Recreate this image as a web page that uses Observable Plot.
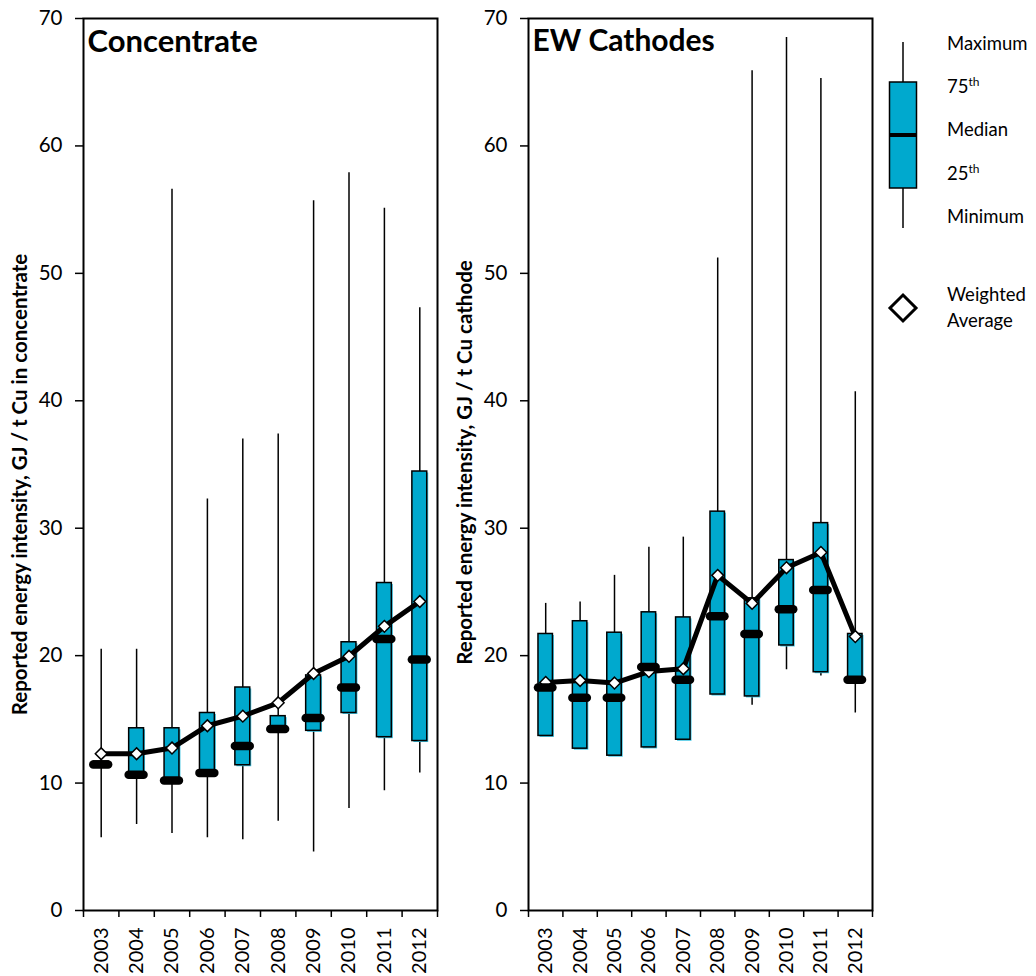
<!DOCTYPE html>
<html>
<head>
<meta charset="utf-8">
<script src="https://cdn.jsdelivr.net/npm/d3@7"></script>
<script src="https://cdn.jsdelivr.net/npm/@observablehq/plot@0.6"></script>
<style>
  html, body { margin: 0; padding: 0; background: #fff; }
  #wrap { position: relative; width: 1036px; height: 976px; overflow: hidden; font-family: Lato, "Open Sans", sans-serif; }
  #wrap > svg, #wrap > div { position: absolute; top: 0; }
</style>
</head>
<body>
<div id="wrap"></div>
<script>
// ---- data ----
const years = ["2003","2004","2005","2006","2007","2008","2009","2010","2011","2012"];

// Concentrate
const concMin    = [5.7, 6.75, 6.05, 5.7, 5.55, 7.0, 4.6, 8.0, 9.4, 10.8];
const concQ1     = [11.3, 10.8, 10.3, 10.9, 11.4, 14.4, 14.1, 15.5, 13.6, 13.3];
const concMedian = [11.45, 10.65, 10.2, 10.8, 12.9, 14.25, 15.1, 17.5, 21.3, 19.7];
const concQ3     = [11.7, 14.3, 14.3, 15.5, 17.5, 15.25, 18.45, 21.05, 25.7, 34.45];
const concMax    = [20.5, 20.5, 56.6, 32.3, 37.0, 37.4, 55.7, 57.9, 55.1, 47.3];
const concAvg    = [12.3, 12.3, 12.75, 14.5, 15.25, 16.3, 18.6, 19.95, 22.3, 24.25];

// EW Cathodes
const ewMin    = [13.7, 12.7, 12.15, 12.8, 13.4, 16.95, 16.1, 18.9, 18.4, 15.5];
const ewQ1     = [13.7, 12.7, 12.15, 12.8, 13.4, 16.95, 16.8, 20.8, 18.7, 18.1];
const ewMedian = [17.5, 16.7, 16.7, 19.1, 18.1, 23.1, 21.7, 23.65, 25.15, 18.1];
const ewQ3     = [21.7, 22.7, 21.8, 23.4, 23.0, 31.3, 24.5, 27.5, 30.4, 21.7];
const ewMax    = [24.1, 24.2, 26.3, 28.5, 29.3, 51.2, 65.9, 68.5, 65.3, 40.7];
const ewAvg    = [17.9, 18.05, 17.85, 18.75, 18.97, 26.3, 24.1, 26.9, 28.1, 21.5];

const yTicks = [0, 10, 20, 30, 40, 50, 60, 70];

// ---- build tables ----
function table(mn, q1, md, q3, mx, av) {
  return years.map((year, i) => ({i, year, min: mn[i], q1: q1[i], median: md[i], q3: q3[i], max: mx[i], avg: av[i]}));
}
const concData = table(concMin, concQ1, concMedian, concQ3, concMax, concAvg);
const ewData   = table(ewMin, ewQ1, ewMedian, ewQ3, ewMax, ewAvg);

const FILL = "#00A9CE";
const SHADOW = "#3cc3e2";
const FONT = "Lato, 'Open Sans', sans-serif";

function panel({data, title, titleSize, ylabel, width, marginLeft, marginRight, labelDy}) {
  const hw = 0.21;
  return Plot.plot({
    width, height: 976,
    marginLeft, marginRight, marginTop: 18, marginBottom: 66,
    x: {domain: [-0.5, 9.5], axis: null},
    y: {domain: [0, 70], axis: null},
    style: {fontFamily: FONT, color: "black", background: "transparent", overflow: "visible"},
    marks: [
      Plot.axisY({ticks: yTicks, tickSize: 8, tickPadding: 13, fontSize: 20.5, label: null, strokeWidth: 1.5}),
      Plot.axisX({ticks: d3.range(-0.5, 10, 1), tickSize: 7, tickFormat: () => "", label: null, strokeWidth: 1.5}),
      Plot.axisX({ticks: d3.range(0, 10), tickSize: 0, tickPadding: 17, tickRotate: -90, fontSize: 20,
                  tickFormat: i => years[i], label: null}),
      Plot.ruleX(data, {x: "i", y1: "min", y2: "max", stroke: "black", strokeWidth: 1.5}),
      Plot.rect(data, {x1: d => d.i - hw, x2: d => d.i + hw, y1: "q1", y2: "q3", fill: SHADOW, dx: 1.5, dy: 1.5}),
      Plot.rect(data, {x1: d => d.i - hw, x2: d => d.i + hw, y1: "q1", y2: "q3", fill: FILL, stroke: "black", strokeWidth: 1.5}),
      Plot.line(data, {x: "i", y: "avg", stroke: "black", strokeWidth: 5, strokeLinejoin: "round"}),
      Plot.dot(data, {x: "i", y: "avg", symbol: "diamond2", r: 5.3, fill: "white", stroke: "black", strokeWidth: 1.5}),
      Plot.ruleY(data, {y: "median", x1: d => d.i - hw, x2: d => d.i + hw, stroke: "black", strokeWidth: 8.5, strokeLinecap: "round"}),
      Plot.frame({stroke: "black", strokeWidth: 2}),
      Plot.text([title], {frameAnchor: "top-left", dx: 4, dy: 11, textAnchor: "start", lineAnchor: "top",
                          fontSize: titleSize, fontWeight: "bold", fill: "black"}),
      Plot.text([ylabel], {frameAnchor: "left", dx: -63, dy: labelDy, rotate: -90, textAnchor: "middle",
                           fontSize: 20.5, fontWeight: "bold", fill: "black"})
    ]
  });
}

const wrap = document.getElementById("wrap");

const left = panel({data: concData, title: "Concentrate", titleSize: 31, ylabel: "Reported energy intensity, GJ / t Cu in concentrate",
                    width: 445, marginLeft: 83, marginRight: 8, labelDy: 20});
left.style.left = "0px";
wrap.appendChild(left);

const right = panel({data: ewData, title: "EW Cathodes", titleSize: 30, ylabel: "Reported energy intensity, GJ / t Cu cathode",
                     width: 430, marginLeft: 78, marginRight: 8, labelDy: -2});
right.style.left = "450px";
wrap.appendChild(right);

// ---- legend ----
const leg = d3.create("svg").attr("width", 163).attr("height", 360)
  .style("position", "absolute").style("left", "873px").style("top", "0px")
  .style("font-family", FONT);
const ox = 30; // whisker x within legend
leg.append("line").attr("x1", ox).attr("x2", ox).attr("y1", 42).attr("y2", 228).attr("stroke", "black").attr("stroke-width", 1.5);
leg.append("rect").attr("x", ox - 13.5).attr("y", 82).attr("width", 27).attr("height", 106)
  .attr("fill", FILL).attr("stroke", "black").attr("stroke-width", 1.5);
leg.append("line").attr("x1", ox - 13.5).attr("x2", ox + 13.5).attr("y1", 135).attr("y2", 135).attr("stroke", "black").attr("stroke-width", 4);
const legText = [["Maximum", null, 44], ["75", "th", 87], ["Median", null, 130], ["25", "th", 174], ["Minimum", null, 217], ["Weighted", null, 295], ["Average", null, 321]];
for (const [t, sup, y] of legText) {
  const tx = leg.append("text").attr("x", 74).attr("y", y).attr("dy", "0.35em").attr("font-size", 18.5).attr("fill", "black");
  tx.append("tspan").text(t);
  if (sup) tx.append("tspan").attr("font-size", 12).attr("dy", "-0.6em").text(sup);
}
leg.append("path").attr("d", `M${ox},${308-13}L${ox+13},308L${ox},${308+13}L${ox-13},308Z`)
  .attr("fill", "white").attr("stroke", "black").attr("stroke-width", 3);
wrap.appendChild(leg.node());
</script>
</body>
</html>
